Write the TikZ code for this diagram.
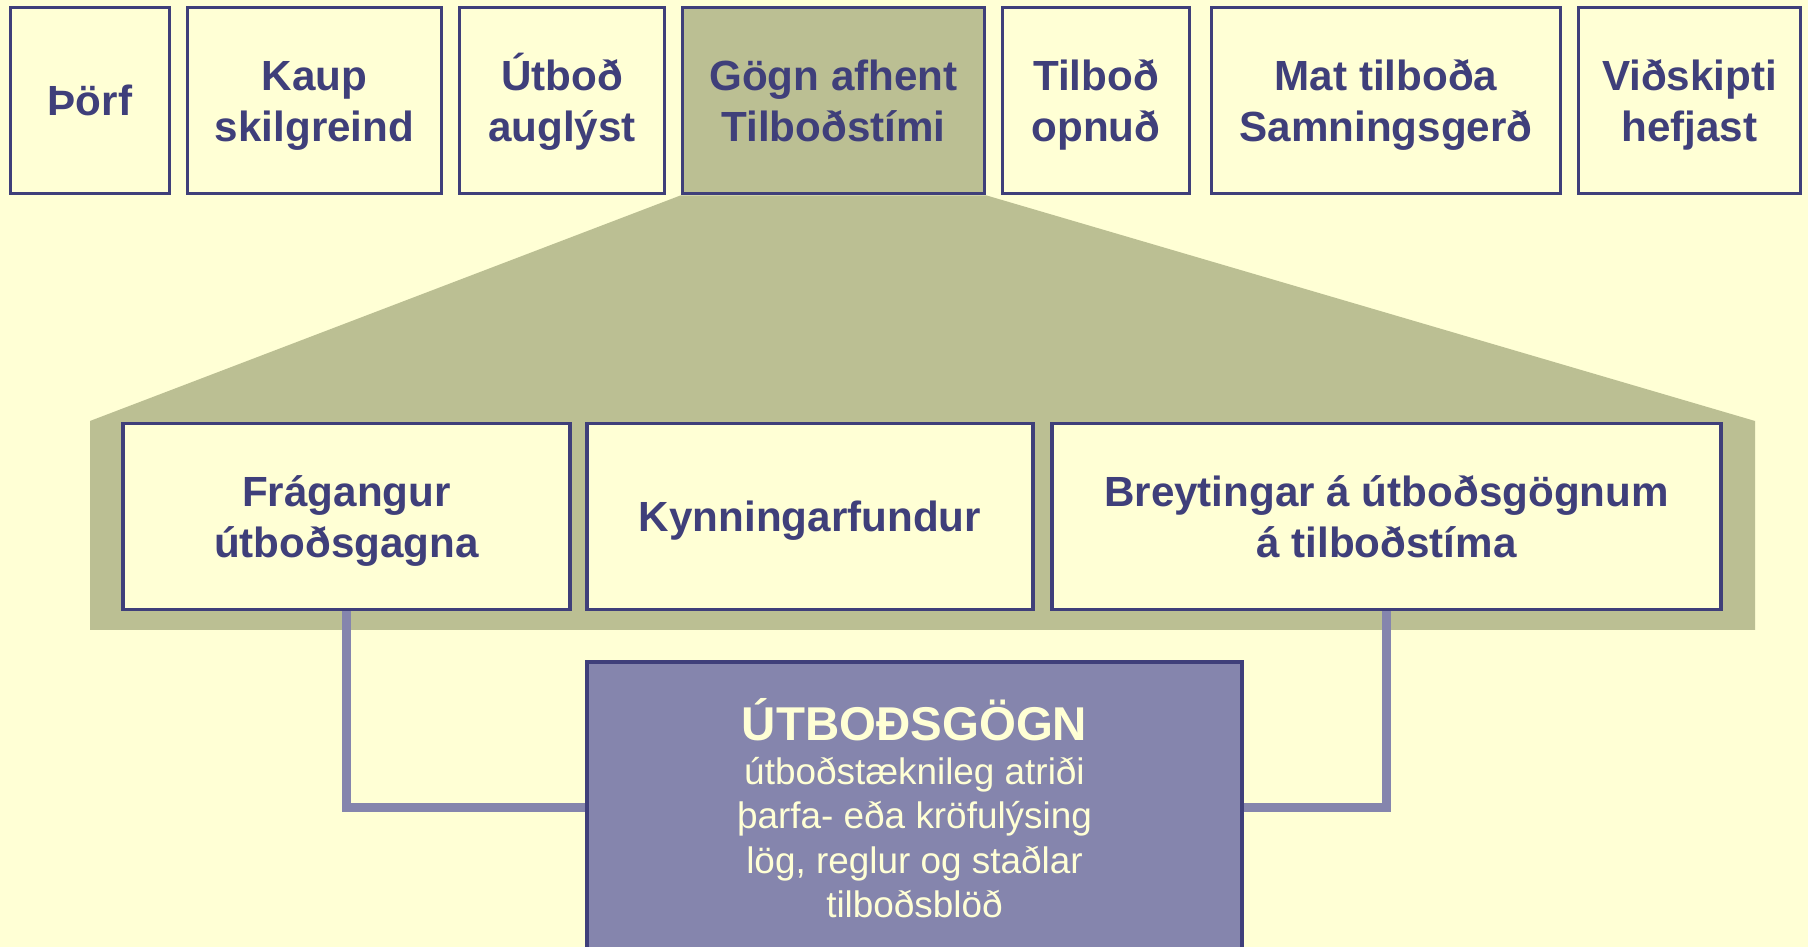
\documentclass[tikz,border=0pt]{standalone}
\usepackage{fontspec}
\setmainfont{Liberation Sans}
\usetikzlibrary{backgrounds}

\definecolor{pale}{HTML}{FFFFD5}
\definecolor{navy}{HTML}{3F3F7A}
\definecolor{olivebg}{HTML}{BBBF93}
\definecolor{lilac}{HTML}{8585AD}

\tikzset{
  phase/.style={draw=navy, line width=1.1pt, fill=pale, text=navy, inner sep=0pt,
    align=center, minimum height=18.6mm, text height=24.5pt, text depth=1.2pt,
    font=\fontsize{12}{14.5}\selectfont\bfseries},
  oneline/.style={text height=10pt},
  docbox/.style={draw=navy, line width=1.1pt, fill=lilac, text=pale, inner sep=0pt,
    align=center, font=\fontsize{10.5}{12.6}\selectfont},
  link/.style={draw=lilac, line width=0.9mm}
}

\begin{document}
\begin{tikzpicture}[x=0.1mm, y=-0.1mm]
  \clip (0,0) rectangle (1808,947);

  % phases of the procurement
  \node[phase, oneline, minimum width=15.9mm] (thorf) at (90,100.5) {Þörf};
  \node[phase, minimum width=25.4mm] (kaup) at (314.5,100.5) {Kaup\\skilgreind};
  \node[phase, minimum width=20.5mm] (augl) at (562,100.5) {Útboð\\auglýst};
  \node[phase, minimum width=30.2mm, fill=olivebg] (afhent) at (833.5,100.5) {Gögn afhent\\Tilboðstími};
  \node[phase, minimum width=18.7mm] (opnud) at (1096,100.5) {Tilboð\\opnuð};
  \node[phase, minimum width=34.9mm] (mat) at (1386,100.5) {Mat tilboða\\Samningsgerð};
  \node[phase, minimum width=22.2mm] (vidsk) at (1689.5,100.5) {Viðskipti\\hefjast};

  % what happens during the tender period
  \node[phase, minimum width=44.7mm] (frag) at (346.5,516.5) {Frágangur\\útboðsgagna};
  \node[phase, oneline, minimum width=44.6mm] (kynn) at (810,516.5) {Kynningarfundur};
  \node[phase, minimum width=66.9mm] (breyt) at (1386.5,516.5) {Breytingar á útboðsgögnum\\á tilboðstíma};

  \begin{pgfonlayer}{background}
    \fill[pale] (0,0) rectangle (1808,947);
    \fill[olivebg] (afhent.south west) -- (afhent.south east) -- (1755,421)
      -- (1755,630) -- (90,630) -- (90,421) -- cycle;
  \end{pgfonlayer}

  \node[docbox, minimum width=65.5mm, minimum height=29.2mm] (gogn) at (914.5,808)
    {{\fontsize{13.5}{16}\selectfont\bfseries ÚTBOÐSGÖGN}\\
     útboðstæknileg atriði\\
     þarfa- eða kröfulýsing\\
     lög, reglur og staðlar\\
     tilboðsblöð};

  \draw[link] (frag.south) |- (gogn.west);
  \draw[link] (breyt.south) |- (gogn.east);
\end{tikzpicture}
\end{document}
